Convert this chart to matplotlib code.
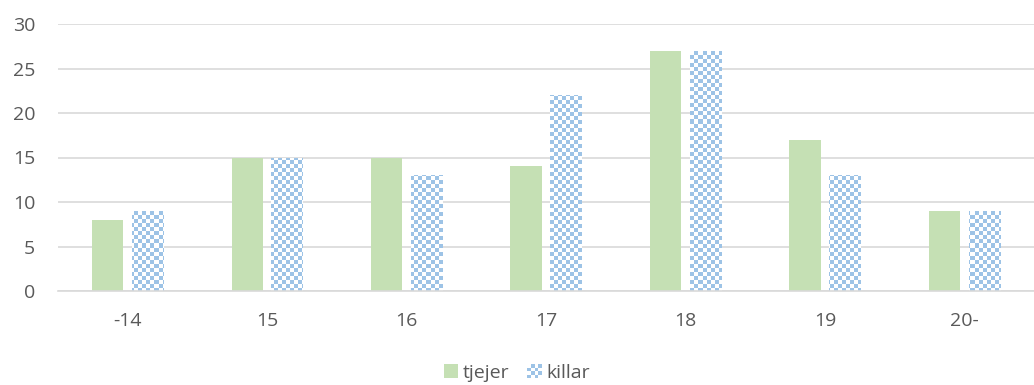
import numpy as np
import matplotlib
matplotlib.use("Agg")
import matplotlib.pyplot as plt
from matplotlib.patches import Rectangle
from matplotlib.legend_handler import HandlerBase

# age groups and counts per group
categories = ["-14", "15", "16", "17", "18", "19", "20-"]
tjejer = [8, 15, 15, 14, 27, 17, 9]
killar = [9, 15, 13, 22, 27, 13, 9]
yticks = [0, 5, 10, 15, 20, 25, 30]

green = "#C5E0B4"
blue = "#9DC3E6"
grid = "#D9D9D9"
txt = "#595959"

plt.rcParams["font.family"] = ["Open Sans", "DejaVu Sans"]

W, H = 1034, 385
fig = plt.figure(figsize=(W / 100, H / 100), dpi=100)
ax_l, ax_b, ax_w, ax_h = 58, 94, 976, 267
ax = fig.add_axes([ax_l / W, ax_b / H, ax_w / W, ax_h / H])

x = np.arange(len(categories))
bw = 0.225
off = 0.143
ax.bar(x - off, tjejer, bw, color=green, zorder=2)
kb = ax.bar(x + off, killar, bw, color="none", zorder=2)

# checkerboard fill for killar, clipped to each bar
cell = 4
yy, xx = np.mgrid[0:ax_h, 0:ax_w]
chk = ((xx // cell + yy // cell) % 2 == 0)
img = np.ones((ax_h, ax_w, 3))
img[chk] = matplotlib.colors.to_rgb(blue)
for r in kb:
    im = ax.imshow(img, extent=(-0.5, len(categories) - 0.5, 0, 30),
                   aspect="auto", interpolation="nearest", zorder=2,
                   origin="upper")
    im.set_clip_path(r)
ax.set_xlim(-0.5, len(categories) - 0.5)
ax.set_ylim(0, 30)

ax.set_yticks(yticks)
ax.set_xticks(x)
ax.set_xticklabels(categories)
ax.yaxis.grid(True, color=grid, linewidth=1.2, zorder=0)
ax.set_axisbelow(True)
for s in ["top", "right", "left"]:
    ax.spines[s].set_visible(False)
ax.spines["bottom"].set_color(grid)
ax.spines["bottom"].set_linewidth(1.2)
ax.tick_params(axis="both", length=0, labelsize=14, colors=txt)
ax.tick_params(axis="y", pad=16.5)
ax.tick_params(axis="x", pad=15)


class CheckerHandler(HandlerBase):
    def create_artists(self, legend, orig_handle, xdescent, ydescent,
                       width, height, fontsize, trans):
        arts = []
        n = 4
        s = min(width, height)
        x0 = xdescent + (width - s) / 2
        cs = s / n
        arts.append(Rectangle((x0, -ydescent), s, s, facecolor="white",
                              edgecolor="none", transform=trans))
        for i in range(n):
            for j in range(n):
                if (i + j) % 2 == 0:
                    arts.append(Rectangle((x0 + i * cs, -ydescent + j * cs), cs, cs,
                                          facecolor=blue, edgecolor="none",
                                          transform=trans))
        return arts


class SquareHandler(HandlerBase):
    def create_artists(self, legend, orig_handle, xdescent, ydescent,
                       width, height, fontsize, trans):
        s = min(width, height)
        x0 = xdescent + (width - s) / 2
        return [Rectangle((x0, -ydescent), s, s, facecolor=green,
                          edgecolor="none", transform=trans)]


h1 = Rectangle((0, 0), 1, 1)
h2 = Rectangle((0, 0), 1, 1)
leg = fig.legend([h1, h2], ["tjejer", "killar"], loc="center",
                 bbox_to_anchor=(0.5, 1 - 373 / H), ncol=2, frameon=False,
                 fontsize=14, handlelength=0.75, handleheight=0.75,
                 handletextpad=0.25, columnspacing=0.9,
                 handler_map={h1: SquareHandler(), h2: CheckerHandler()})
for t in leg.get_texts():
    t.set_color(txt)

fig.savefig("out.png", dpi=100)
